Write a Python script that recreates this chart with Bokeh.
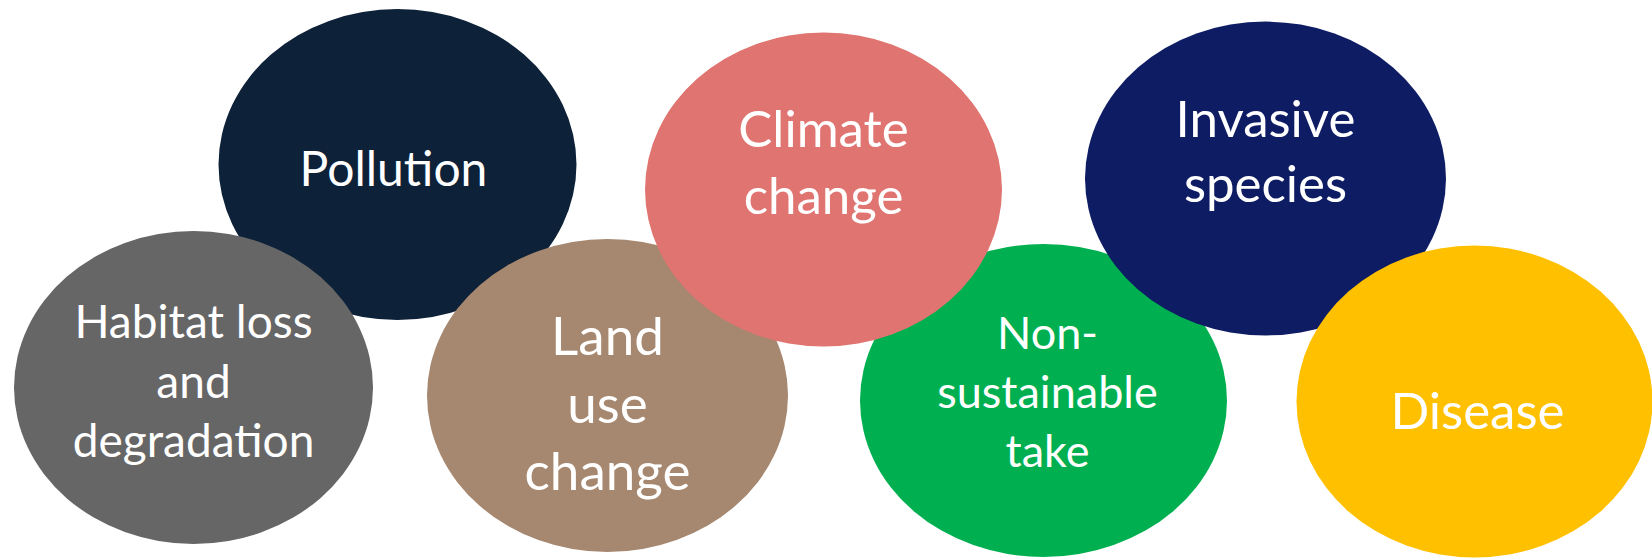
from bokeh.plotting import figure
from bokeh.models import Range1d, ColumnDataSource
from bokeh.core.properties import value
from bokeh.embed import file_html
from bokeh.resources import INLINE

# ---- data (categories) ----
labels = ["Pollution", "Habitat loss\nand\ndegradation", "Land\nuse\nchange",
          "Non-\nsustainable\ntake", "Climate\nchange", "Invasive\nspecies", "Disease"]
colors = ["#0D2138", "#666666", "#A6876F", "#00B050", "#E07470", "#0E1C64", "#FFC000"]

# ---- layout (pixel coordinates of the picture) ----
cx = [397, 193, 607, 1043, 823, 1265, 1474]
cy = [164, 387, 395, 400, 189, 178, 401]
ew = [358, 359, 361, 367, 357, 361, 356]
eh = [311, 313, 313, 313, 314, 314, 312]
tx = [393, 193, 607, 1047, 823, 1265, 1477]
first_base = [167, 320, 334, 331, 127, 117, 409]
line_gap = [0, 59.5, 67.5, 59, 67, 65, 0]
font_px = [48, 46, 53, 45, 51, 51, 51]

W, H = 1652, 559
p = figure(width=W, height=H, output_backend="svg", toolbar_location=None,
           x_range=Range1d(0, W), y_range=Range1d(H, 0),
           min_border=0, outline_line_color=None)
p.axis.visible = False
p.grid.visible = False
p.background_fill_color = "white"
p.border_fill_color = "white"

p.ellipse(x=cx, y=cy, width=ew, height=eh, fill_color=colors, line_color=None)

for i, lab in enumerate(labels):
    lines = lab.split("\n")
    xs = [tx[i]] * len(lines)
    ys = [first_base[i] + k * line_gap[i] for k in range(len(lines))]
    src = ColumnDataSource(dict(x=xs, y=ys, t=lines))
    p.text(x="x", y="y", text="t", source=src, text_align="center",
           text_baseline="alphabetic", text_color="white",
           text_font=value("Lato"), text_font_size=f"{font_px[i]}px")

open("out.html", "w").write(file_html(p, INLINE))
